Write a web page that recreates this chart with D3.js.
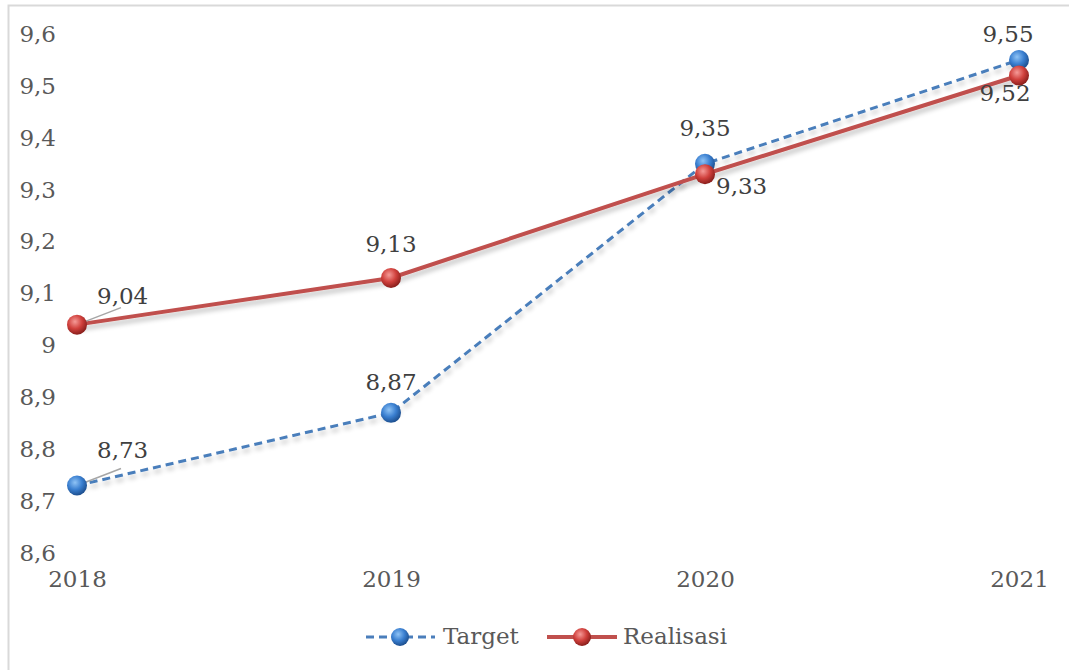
<!DOCTYPE html>
<html>
<head>
<meta charset="utf-8">
<script src="https://cdn.jsdelivr.net/npm/d3@7"></script>
<style>
  body { margin: 0; background: #fff; }
  text { font-family: "DejaVu Serif", serif; fill: #595959; }
</style>
</head>
<body>
<div id="chart"></div>
<script>
var years = ["2018", "2019", "2020", "2021"];
var target = [8.73, 8.87, 9.35, 9.55];
var realisasi = [9.04, 9.13, 9.33, 9.52];
var yTicks = [8.6, 8.7, 8.8, 8.9, 9.0, 9.1, 9.2, 9.3, 9.4, 9.5, 9.6];

var width = 1069, height = 670;
var fs = "23px";
var fmt = function(v) { return String(v).replace(".", ","); };

var svg = d3.select("#chart").append("svg").attr("width", width).attr("height", height);

// gradients for the round markers
var defs = svg.append("defs");
function ball(id, light, mid, dark) {
  var g = defs.append("radialGradient").attr("id", id)
    .attr("cx", "40%").attr("cy", "35%").attr("r", "65%");
  g.append("stop").attr("offset", "0%").attr("stop-color", light);
  g.append("stop").attr("offset", "55%").attr("stop-color", mid);
  g.append("stop").attr("offset", "100%").attr("stop-color", dark);
}
ball("gBlue", "#8fc3f5", "#3a7fd0", "#1d4f8f");
ball("gRed", "#f59a97", "#d0403c", "#8a1f1c");
var sh = defs.append("filter").attr("id", "shadow").attr("x", "-10%").attr("y", "-50%").attr("width", "120%").attr("height", "200%");
sh.append("feGaussianBlur").attr("in", "SourceAlpha").attr("stdDeviation", 2.5);
sh.append("feOffset").attr("dx", 1).attr("dy", 4).attr("result", "b");
sh.append("feComponentTransfer").append("feFuncA").attr("type", "linear").attr("slope", 0.25);
var m = sh.append("feMerge");
m.append("feMergeNode");
m.append("feMergeNode").attr("in", "SourceGraphic");

// frame
svg.append("rect").attr("x", 8.5).attr("y", 5.5).attr("width", width + 20).attr("height", height + 20)
  .attr("fill", "none").attr("stroke", "#d9d9d9").attr("stroke-width", 2);

var x = d3.scalePoint().domain(years).range([77, 1019]);
var y = d3.scaleLinear().domain([8.6, 9.6]).range([553, 34]);

// y axis labels
svg.append("g").attr("transform", "translate(56,0)")
  .call(d3.axisLeft(y).tickValues(yTicks).tickSize(0).tickPadding(0).tickFormat(function(d) { return fmt(+d.toFixed(1)); }))
  .call(function(g) { g.select(".domain").remove(); })
  .selectAll("text").style("font-size", fs).attr("fill", "#595959").attr("dy", "0.32em")
  .style("font-family", "DejaVu Serif, serif");

// x axis labels
svg.append("g").attr("transform", "translate(0,580)")
  .call(d3.axisBottom(x).tickSize(0).tickPadding(0))
  .call(function(g) { g.select(".domain").remove(); })
  .selectAll("text").style("font-size", fs).attr("fill", "#595959").attr("dy", "0.32em")
  .style("font-family", "DejaVu Serif, serif");

var line = d3.line().x(function(d, i) { return x(years[i]); }).y(function(d) { return y(d); });

svg.append("path").datum(target).attr("d", line).attr("fill", "none")
  .attr("stroke", "#4a7ebb").attr("stroke-width", 3).attr("stroke-dasharray", "8,5")
  .attr("filter", "url(#shadow)");
svg.append("path").datum(realisasi).attr("d", line).attr("fill", "none")
  .attr("stroke", "#c0504d").attr("stroke-width", 4).attr("filter", "url(#shadow)");

// leader lines for 2018 labels
[target[0], realisasi[0]].forEach(function(v) {
  svg.append("line").attr("x1", x(years[0])).attr("y1", y(v))
    .attr("x2", x(years[0]) + 44).attr("y2", y(v) - 17)
    .attr("stroke", "#a6a6a6").attr("stroke-width", 1.5);
});

svg.selectAll(".mt").data(target).enter().append("circle")
  .attr("cx", function(d, i) { return x(years[i]); }).attr("cy", function(d) { return y(d); })
  .attr("r", 10).attr("fill", "url(#gBlue)");
svg.selectAll(".mr").data(realisasi).enter().append("circle")
  .attr("cx", function(d, i) { return x(years[i]); }).attr("cy", function(d) { return y(d); })
  .attr("r", 10).attr("fill", "url(#gRed)");

// data labels: offsets relative to the point
var tOff = [[20, -35, "start"], [0, -30, "middle"], [0, -35, "middle"], [-11, -25, "middle"]];
var rOff = [[20, -28, "start"], [0, -33, "middle"], [11, 13, "start"], [-14, 18, "middle"]];
function labels(data, off) {
  svg.append("g").selectAll("text").data(data).enter().append("text")
    .attr("x", function(d, i) { return x(years[i]) + off[i][0]; })
    .attr("y", function(d, i) { return y(d) + off[i][1]; })
    .attr("text-anchor", function(d, i) { return off[i][2]; })
    .attr("dy", "0.32em").style("font-size", fs).style("fill", "#404040")
    .text(function(d) { return fmt(d); });
}
labels(target, tOff);
labels(realisasi, rOff);

// legend
var lg = svg.append("g").attr("transform", "translate(0,637)");
lg.append("line").attr("x1", 366).attr("x2", 435).attr("stroke", "#4a7ebb")
  .attr("stroke-width", 3).attr("stroke-dasharray", "8,5");
lg.append("circle").attr("cx", 400).attr("r", 9).attr("fill", "url(#gBlue)");
lg.append("text").attr("x", 443).attr("dy", "0.32em").style("font-size", fs).text("Target");
lg.append("line").attr("x1", 547).attr("x2", 617).attr("stroke", "#c0504d").attr("stroke-width", 4);
lg.append("circle").attr("cx", 582).attr("r", 9).attr("fill", "url(#gRed)");
lg.append("text").attr("x", 623).attr("dy", "0.32em").style("font-size", fs).text("Realisasi");
</script>
</body>
</html>
